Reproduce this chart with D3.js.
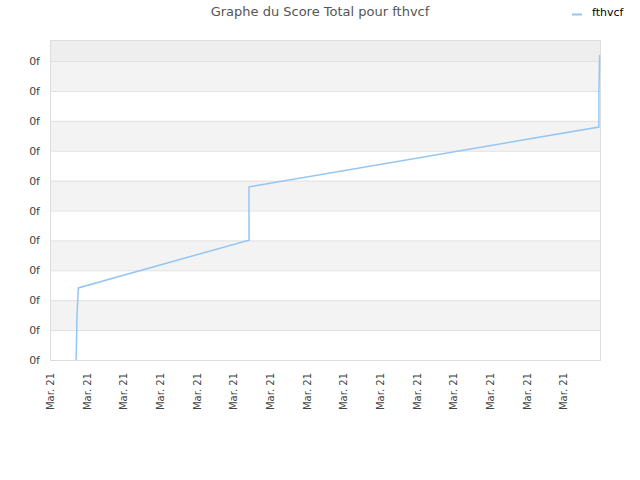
<!DOCTYPE html>
<html><head><meta charset="utf-8">
<script src="https://cdn.jsdelivr.net/npm/d3@7"></script>
<style>body{margin:0;background:#fff}svg{display:block}text{font-family:"DejaVu Sans",sans-serif}</style>
</head><body>
<script>
const title = "Graphe du Score Total pour fthvcf";
const seriesName = "fthvcf";
const xTickPositions = [0,1,2,3,4,5,6,7,8,9,10,11,12,13,14];
const xTickLabels = ["Mar. 21","Mar. 21","Mar. 21","Mar. 21","Mar. 21","Mar. 21","Mar. 21","Mar. 21","Mar. 21","Mar. 21","Mar. 21","Mar. 21","Mar. 21","Mar. 21","Mar. 21"];
const yTickValues = [0,1,2,3,4,5,6,7,8,9,10];
const yTickLabels = ["0f","0f","0f","0f","0f","0f","0f","0f","0f","0f","0f"];
const seriesX = [0.709, 0.717, 0.736, 0.772, 5.427, 5.427, 14.97, 14.97, 14.99];
const seriesY = [0, 0.27, 1.5, 2.41, 4.01, 5.79, 7.79, 8.96, 10.2];

const W = 640, H = 480;
const m = {left:50, right:40, top:40, bottom:120};
const svg = d3.select("body").append("svg").attr("width",W).attr("height",H);
const x = d3.scaleLinear().domain([0,15]).range([m.left, W-m.right]);
const y = d3.scaleLinear().domain([0,10]).range([360, 61]);
const yTop = y.invert(m.top);

// bands
const bands = [];
for (let v=0; v<10; v++) bands.push(v);
svg.append("g").selectAll("rect").data(bands).join("rect")
  .attr("x", x(0)).attr("width", x(15)-x(0))
  .attr("y", d=>y(d+1)).attr("height", d=>y(d)-y(d+1))
  .attr("fill", d=> d%2===1 ? "#f3f3f3" : "#ffffff");
svg.append("rect").attr("x", x(0)).attr("width", x(15)-x(0))
  .attr("y", y(yTop)).attr("height", y(10)-y(yTop)).attr("fill","#eeeeee");

// grid
svg.append("g").selectAll("line").data(yTickValues).join("line")
  .attr("x1", x(0)).attr("x2", x(15)).attr("y1", d=>y(d)+0.5).attr("y2", d=>y(d)+0.5)
  .attr("stroke","#e0e0e0").attr("stroke-width",1);

// border
svg.append("rect").attr("x", x(0)+0.5).attr("y", y(yTop)+0.5)
  .attr("width", x(15)-x(0)).attr("height", y(0)-y(yTop))
  .attr("fill","none").attr("stroke","#dddddd");

// y axis labels
const yAxis = d3.axisLeft(y).tickValues(yTickValues).tickFormat((d,i)=>yTickLabels[i]).tickSize(0).tickPadding(10);
const gy = svg.append("g").attr("transform",`translate(${x(0)},0)`).call(yAxis);
gy.select(".domain").remove();
gy.selectAll("text").attr("fill","#444").style("font-size","11px").attr("font-family","DejaVu Sans, sans-serif");

// x axis labels
const xAxis = d3.axisBottom(x).tickValues(xTickPositions).tickFormat((d,i)=>xTickLabels[i]).tickSize(0).tickPadding(0);
const gx = svg.append("g").attr("transform",`translate(0,${y(0)})`).call(xAxis);
gx.select(".domain").remove();
gx.selectAll("text").attr("fill","#444").style("font-size","10px").attr("font-family","DejaVu Sans, sans-serif")
  .attr("text-anchor","end").attr("transform","rotate(-90)").attr("x",-13).attr("y",0).attr("dy","0.35em");

// line
const pts = seriesX.map((d,i)=>[d, seriesY[i]]);
svg.append("path").datum(pts)
  .attr("d", d3.line().x(d=>x(d[0])).y(d=>y(d[1])))
  .attr("fill","none").attr("stroke","#94c6f5").attr("stroke-width",1.5);

// title
svg.append("text").attr("x",320).attr("y",16).attr("text-anchor","middle")
  .attr("fill","#555").style("font-size","13px").text(title);

// legend
svg.append("line").attr("x1",572).attr("x2",582).attr("y1",14.5).attr("y2",14.5)
  .attr("stroke","#94c6f5").attr("stroke-width",2);
svg.append("text").attr("x",592).attr("y",16).attr("fill","#000").style("font-size","11px").text(seriesName);
</script>
</body></html>
